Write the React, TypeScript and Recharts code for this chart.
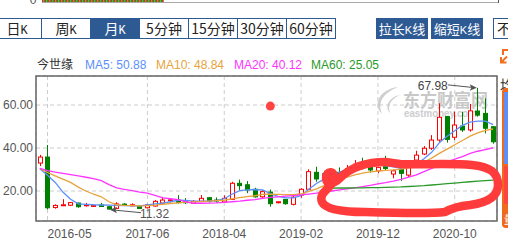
import React from 'react';
import { ComposedChart, Bar, Line, XAxis, YAxis, CartesianGrid, ReferenceArea, ReferenceDot } from 'recharts';

// monthly K-line, 今世缘
const months = [
  '2016-04', '2016-05', '2016-06', '2016-07', '2016-08', '2016-09', '2016-10', '2016-11', '2016-12',
  '2017-01', '2017-02', '2017-03', '2017-04', '2017-05', '2017-06', '2017-07', '2017-08', '2017-09', '2017-10', '2017-11', '2017-12',
  '2018-01', '2018-02', '2018-03', '2018-04', '2018-05', '2018-06', '2018-07', '2018-08', '2018-09', '2018-10', '2018-11', '2018-12',
  '2019-01', '2019-02', '2019-03', '2019-04', '2019-05', '2019-06', '2019-07', '2019-08', '2019-09', '2019-10', '2019-11', '2019-12',
  '2020-01', '2020-02', '2020-03', '2020-04', '2020-05', '2020-06', '2020-07', '2020-08', '2020-09', '2020-10', '2020-11', '2020-12',
  '2021-01', '2021-02', '2021-03',
];

const opens = [
  33.0, 35.8, 12.3, 13.3, 13.4, 14.4, 13.4, 12.9, 13.5, 12.7, 11.9, 13.9, 13.3, 13.0, 12.2, 13.0, 14.4, 15.6, 15.8, 15.0,
  14.3, 15.2, 16.9, 15.8, 14.9, 16.1, 23.6, 22.9, 20.8, 17.3, 19.5, 14.6, 16.1, 13.8, 18.1, 20.8, 28.7, 28.0, 24.3, 28.7,
  28.5, 30.5, 32.5, 31.3, 29.4, 31.3, 27.9, 30.1, 27.4, 34.4, 37.2, 39.9, 43.7, 54.6, 45.0, 50.2, 48.4, 57.2, 56.1, 49.9,
];
const highs = [
  36.8, 41.4, 13.8, 16.2, 14.9, 14.6, 14.5, 13.5, 14.5, 13.0, 14.8, 14.3, 14.3, 13.3, 14.0, 15.8, 17.3, 16.5, 18.1, 16.7,
  15.8, 18.1, 17.0, 17.0, 18.0, 24.3, 25.3, 24.6, 21.5, 20.3, 20.7, 15.2, 16.3, 17.7, 21.3, 30.1, 31.3, 29.4, 29.3, 31.0,
  32.1, 34.4, 35.5, 32.0, 31.3, 36.4, 30.0, 30.5, 31.2, 38.7, 40.9, 46.0, 60.8, 54.9, 56.9, 56.9, 60.5, 67.98, 63.1, 50.2,
];
const lows = [
  31.6, 11.5, 11.8, 13.0, 13.0, 12.2, 12.8, 12.8, 12.6, 11.32, 11.6, 13.0, 12.9, 11.6, 11.9, 12.8, 14.0, 14.7, 14.2, 14.0,
  14.0, 14.8, 14.6, 14.6, 14.6, 15.9, 20.5, 19.0, 16.9, 16.8, 12.7, 14.3, 13.6, 13.3, 16.9, 20.5, 24.3, 24.8, 23.8, 26.5,
  27.8, 29.8, 30.0, 28.6, 28.2, 29.5, 25.9, 24.7, 26.5, 31.0, 36.7, 39.1, 42.9, 42.5, 43.7, 47.5, 47.6, 54.6, 46.8, 42.0,
];
const closes = [
  35.8, 12.2, 13.3, 13.6, 14.6, 12.7, 13.6, 13.3, 12.8, 11.6, 14.0, 13.3, 13.6, 11.9, 13.5, 15.2, 15.8, 15.9, 14.6, 14.6,
  15.2, 16.6, 15.2, 15.4, 16.6, 23.6, 22.5, 20.5, 17.3, 19.7, 14.1, 15.0, 14.1, 17.1, 20.8, 29.0, 25.6, 26.5, 28.2, 27.1,
  30.5, 32.5, 31.5, 29.8, 31.0, 30.5, 29.4, 28.2, 31.0, 36.7, 39.9, 43.7, 54.3, 44.0, 50.7, 48.4, 57.3, 55.3, 49.2, 42.9,
];

const ma5 = [
  30.4, 27.3, 24.0, 19.5, 16.2, 14.0, 13.8, 13.6, 13.5, 13.4, 13.3, 13.2, 13.1, 13.1, 13.5, 14.0, 14.4, 15.0, 15.7, 15.6,
  15.3, 15.3, 15.3, 15.5, 16.4, 18.5, 20.2, 20.5, 20.7, 20.5, 18.8, 17.5, 16.8, 16.8, 17.8, 20.8, 23.5, 25.5, 27.0, 28.8,
  30.0, 31.0, 31.8, 32.0, 32.0, 31.8, 31.2, 30.5, 31.0, 32.5, 35.0, 38.0, 42.5, 45.5, 48.0, 50.5, 52.0, 52.5, 52.5, 50.88,
];
const ma10 = [
  30.4, 28.6, 27.0, 25.5, 24.0, 21.8, 20.0, 18.5, 17.3, 15.0, 13.6, 13.3, 13.2, 13.1, 13.2, 13.4, 13.8, 14.2, 14.5, 14.7,
  14.9, 15.1, 15.3, 15.5, 15.7, 16.3, 16.9, 17.4, 17.8, 18.4, 18.5, 18.4, 18.3, 18.3, 18.6, 19.8, 21.0, 22.5, 24.0, 25.3,
  26.5, 27.5, 28.3, 28.9, 29.3, 29.6, 29.8, 30.2, 30.8, 32.0, 33.5, 35.3, 37.5, 39.5, 41.5, 43.5, 45.5, 47.0, 48.2, 48.84,
];
const ma20 = [
  30.5, 29.5, 28.8, 28.2, 27.6, 27.0, 26.4, 25.8, 24.8, 23.0, 21.5, 20.8, 20.2, 19.5, 19.0, 18.0, 16.8, 16.4, 16.0, 15.0,
  14.3, 14.3, 14.4, 14.5, 14.7, 15.0, 15.3, 15.7, 16.0, 16.6, 17.0, 17.3, 17.6, 17.9, 18.2, 18.6, 19.0, 19.6, 20.0, 20.5,
  21.0, 21.5, 22.0, 22.6, 23.3, 23.9, 24.6, 25.4, 26.5, 27.5, 29.0, 30.5, 32.0, 33.4, 34.8, 36.0, 37.5, 38.5, 39.3, 40.12,
];
const ma60 = [
  null, null, null, null, null, null, null, null, null, null, null, null, null, null, null, null, null, null, null, null,
  null, null, null, null, null, null, null, null, null, null, null, null, null, null, null, null, null, 21.2, 21.3, 21.4,
  21.4, 21.5, 21.5, 21.6, 21.6, 21.7, 21.8, 21.9, 22.1, 22.3, 22.5, 22.8, 23.1, 23.4, 23.7, 24.0, 24.3, 24.6, 24.8, 25.05,
];

const xTicks = ['2016-05', '2017-06', '2018-04', '2019-02', '2019-12', '2020-10'];
const yTicks = [20, 40, 60];
const tabs = ['日K', '周K', '月K', '5分钟', '15分钟', '30分钟', '60分钟'];

const RISE = '#ff0000';
const FALL = '#008000';
const C5 = '#5b8ff9';
const C10 = '#e8a33c';
const C20 = '#ff33ff';
const C60 = '#2a9a2a';
const NAVY = '#2e5a94';
const AXIS_FONT = 'Arial, "Liberation Sans", sans-serif';
const CJK = '"Noto Sans CJK SC", sans-serif';

const data = months.map((m, i) => ({
  month: m,
  range: [lows[i], highs[i]],
  open: opens[i],
  high: highs[i],
  low: lows[i],
  close: closes[i],
  ma5: ma5[i],
  ma10: ma10[i],
  ma20: ma20[i],
  ma60: ma60[i],
}));

const hiIdx = highs.indexOf(Math.max(...highs));
const loIdx = lows.indexOf(Math.min(...lows));

const Candle = (props: any) => {
  const { x, y, width, height, payload } = props;
  const { open, close, high, low } = payload;
  const top = Math.min(y, y + height);
  const h = Math.abs(height);
  const span = high - low;
  const py = (v: number) => (span > 0 ? top + ((high - v) / span) * h : top);
  const cx = Math.round(x + width / 2) + 0.5;
  const up = close >= open;
  const color = up ? RISE : FALL;
  const bTop = py(Math.max(open, close));
  const bBot = py(Math.min(open, close));
  return (
    <g>
      <line x1={cx} x2={cx} y1={top} y2={top + h} stroke={color} strokeWidth={1} />
      <rect x={cx - 2} y={bTop} width={4} height={Math.max(bBot - bTop, 1)} fill={up ? '#fff' : color} stroke={color} strokeWidth={1} />
    </g>
  );
};

const XTick = ({ x, y, payload }: any) => (
  <text x={x} y={y} dy="0.71em" textAnchor={payload.value === xTicks[0] ? 'start' : 'middle'} fontSize={12} fill="#555" fontFamily={AXIS_FONT}>
    {payload.value}
  </text>
);

const HighNote = ({ cx, cy }: any) => (
  <g>
    <line x1={cx - 30} y1={cy - 3} x2={cx - 6} y2={cy - 0.5} stroke="#555" strokeWidth={1} />
    <path d={`M${cx - 1},${cy} l-7,-3.5 l1.5,3.5 l-1.5,3 z`} fill="#555" />
    <text x={cx - 30} y={cy + 2} textAnchor="end" fontSize={12} fill="#444" fontFamily={AXIS_FONT}>
      {highs[hiIdx].toFixed(2)}
    </text>
  </g>
);

const LowNote = ({ cx, cy }: any) => (
  <g>
    <line x1={cx + 6} y1={cy + 0.5} x2={cx + 32} y2={cy + 3} stroke="#555" strokeWidth={1} />
    <path d={`M${cx + 1},${cy} l7,-3 l-1.5,3.5 l1.5,3 z`} fill="#555" />
    <text x={cx + 31} y={cy + 8} fontSize={12} fill="#555" fontFamily={AXIS_FONT}>
      {lows[loIdx].toFixed(2)}
    </text>
  </g>
);

const Tab = ({ label, i }: { label: string; i: number }) => {
  const sel = i === 2;
  const k = label.endsWith('K');
  return (
    <div
      style={{
        position: 'absolute', left: -8 + 49 * i, top: 18, width: 50, height: 21, boxSizing: 'border-box',
        border: `1px solid ${NAVY}`, background: sel ? NAVY : '#fff', color: sel ? '#fff' : '#222',
        fontFamily: CJK, fontSize: 14, lineHeight: '19px', textAlign: 'center',
      }}
    >
      {k ? label.slice(0, -1) : label}
      {k && <span style={{ fontFamily: '"Liberation Mono", monospace', fontSize: 12 }}>K</span>}
    </div>
  );
};

const Btn = ({ left, text }: { left: number; text: string }) => (
  <div
    style={{
      position: 'absolute', left, top: 18, width: 52, height: 21, background: NAVY, color: '#fff',
      fontFamily: CJK, fontSize: 13, lineHeight: '21px', textAlign: 'center',
    }}
  >
    {text.slice(0, 2)}
    <span style={{ fontFamily: AXIS_FONT, fontSize: 11 }}>K</span>
    {text.slice(3)}
  </div>
);

export default function App() {
  const last = (a: number[]) => a[a.length - 1].toFixed(2);
  return (
    <div style={{ position: 'fixed', left: 0, top: 0, width: 508, height: 244, overflow: 'hidden', background: '#fff' }}>
      {tabs.map((t, i) => <Tab key={t} label={t} i={i} />)}
      <Btn left={376} text="拉长K线" />
      <Btn left={431} text="缩短K线" />
      <div
        style={{
          position: 'absolute', left: 493, top: 18, width: 24, height: 21, boxSizing: 'border-box',
          border: `1px solid ${NAVY}`, background: '#fff', fontFamily: CJK, fontSize: 14, lineHeight: '19px', paddingLeft: 3, color: '#222',
        }}
      >
        不
      </div>

      {/* watermark */}
      <svg width={508} height={244} style={{ position: 'absolute', left: 0, top: 0 }}>
        <path d="M398 87 C380 89 372 104 382 114 C377 101 384 93 398 87 Z" fill="#cfcfcf" />
        <path d="M402 94 C389 97 384 106 390 113 C387 104 392 98 402 94 Z" fill="#cfcfcf" />
        <text x={403} y={107} fontSize={18} fontWeight={700} fill="#c8c8c8" fontFamily={CJK} textLength={85} lengthAdjust="spacingAndGlyphs">
          东方财富网
        </text>
        <text x={404} y={116.5} fontSize={10} fontWeight={700} fill="#cdcdcd" fontFamily={AXIS_FONT} textLength={73} lengthAdjust="spacingAndGlyphs">
          eastmoney.com
        </text>
      </svg>

      <div style={{ position: 'absolute', left: 0, top: 70 }}>
        <ComposedChart width={508} height={174} data={data} margin={{ top: 6, right: 11, bottom: 0, left: 0 }}>
          <CartesianGrid stroke="#ccc" strokeDasharray="4 3" />
          <XAxis
            dataKey="month"
            ticks={xTicks}
            interval={0}
            height={23}
            axisLine={false}
            tickLine={false}
            tickSize={6}
            tickMargin={2}
            tick={<XTick />}
          />
          <YAxis
            type="number"
            domain={[6.05, 73.5]}
            ticks={yTicks}
            allowDataOverflow
            width={36}
            axisLine={false}
            tickLine={false}
            tickSize={3}
            tickMargin={0}
            tickFormatter={(v: number) => v.toFixed(2)}
            tick={{ fontSize: 12, fill: '#555', fontFamily: AXIS_FONT }}
          />
          <Bar dataKey="range" barSize={5} shape={<Candle />} isAnimationActive={false} />
          <Line dataKey="ma5" stroke={C5} strokeWidth={1.3} dot={false} activeDot={false} isAnimationActive={false} />
          <Line dataKey="ma10" stroke={C10} strokeWidth={1.3} dot={false} activeDot={false} isAnimationActive={false} />
          <Line dataKey="ma20" stroke={C20} strokeWidth={1.3} dot={false} activeDot={false} isAnimationActive={false} />
          <Line dataKey="ma60" stroke={C60} strokeWidth={1.3} dot={false} activeDot={false} isAnimationActive={false} />
          <ReferenceArea y1={6.05} y2={73.5} fill="none" stroke="#666" strokeWidth={1.5} ifOverflow="visible" />
          <ReferenceDot x={months[30]} y={59.5} r={4.5} fill="#ff4444" stroke="none" />
          <ReferenceDot x={months[hiIdx]} y={highs[hiIdx]} r={0} shape={(p: any) => <HighNote {...p} />} />
          <ReferenceDot x={months[loIdx]} y={lows[loIdx]} r={0} shape={(p: any) => <LowNote {...p} />} />
        </ComposedChart>
      </div>

      {/* overlay: legend, top strip, side widget, hand-drawn ring */}
      <svg width={508} height={244} style={{ position: 'absolute', left: 0, top: 0, pointerEvents: 'none' }}>
        <defs>
          <pattern id="vol" width={3} height={3} patternUnits="userSpaceOnUse">
            <rect width={1.5} height={3} fill="#e22" />
            <rect x={1.5} width={1.5} height={3} fill="#1a1" />
          </pattern>
        </defs>
        <text x={33} y={4} textAnchor="middle" fontSize={12} fill="#555" fontFamily={AXIS_FONT}>0</text>
        <rect x={42} y={0} width={122} height={2.5} fill="url(#vol)" />
        <line x1={42} x2={498} y1={2.5} y2={2.5} stroke="#aaa" />
        <line x1={498.5} x2={498.5} y1={0} y2={3} stroke="#555" />

        <text x={37} y={68.5} fontSize={12} fill="#333" fontFamily={CJK}>今世缘</text>
        <text x={85} y={68.5} fontSize={12} fill={C5} fontFamily={AXIS_FONT}>MA5: {last(ma5)}</text>
        <text x={156} y={68.5} fontSize={12} fill={C10} fontFamily={AXIS_FONT}>MA10: {last(ma10)}</text>
        <text x={234} y={68.5} fontSize={12} fill={C20} fontFamily={AXIS_FONT}>MA20: {last(ma20)}</text>
        <text x={311} y={68.5} fontSize={12} fill={C60} fontFamily={AXIS_FONT}>MA60: {last(ma60 as number[])}</text>

        <path d="M503 55 V50 H508" stroke="#f07020" strokeWidth={2} fill="none" />
        <path d="M501 57 V62.5 H506.5 M501.5 62 L507 56.5" stroke="#f07020" strokeWidth={2} fill="none" />

        <text x={500} y={90} fontSize={14} fill="#333" fontFamily={CJK}>均</text>
        <rect x={502} y={88} width={14} height={140} rx={4} fill="#f06a1e" />
        <rect x={504} y={92} width={10} height={72} fill="#5b8ff9" />
        <rect x={504} y={166} width={10} height={38} fill="#f44" />
        <text x={504} y={224} fontSize={11} fill="#fff" fontFamily={CJK}>量</text>

        <path
          d="M386 162 C365 162 350 168 340 178 C334 184 326 186 326 178 C326 170 336 170 334 180 C332 188 318 192 322 202 C326 210 345 212 365 212 C395 213 430 214 445 212 C452 208 460 206 470 205 C485 203 498 198 498 185 C498 172 490 167 472 165 C450 163 420 165 400 164 C392 163 388 162 386 162"
          stroke="#ff3b3b"
          strokeWidth={8.5}
          fill="none"
          strokeLinecap="round"
          strokeLinejoin="round"
        />
      </svg>
    </div>
  );
}
